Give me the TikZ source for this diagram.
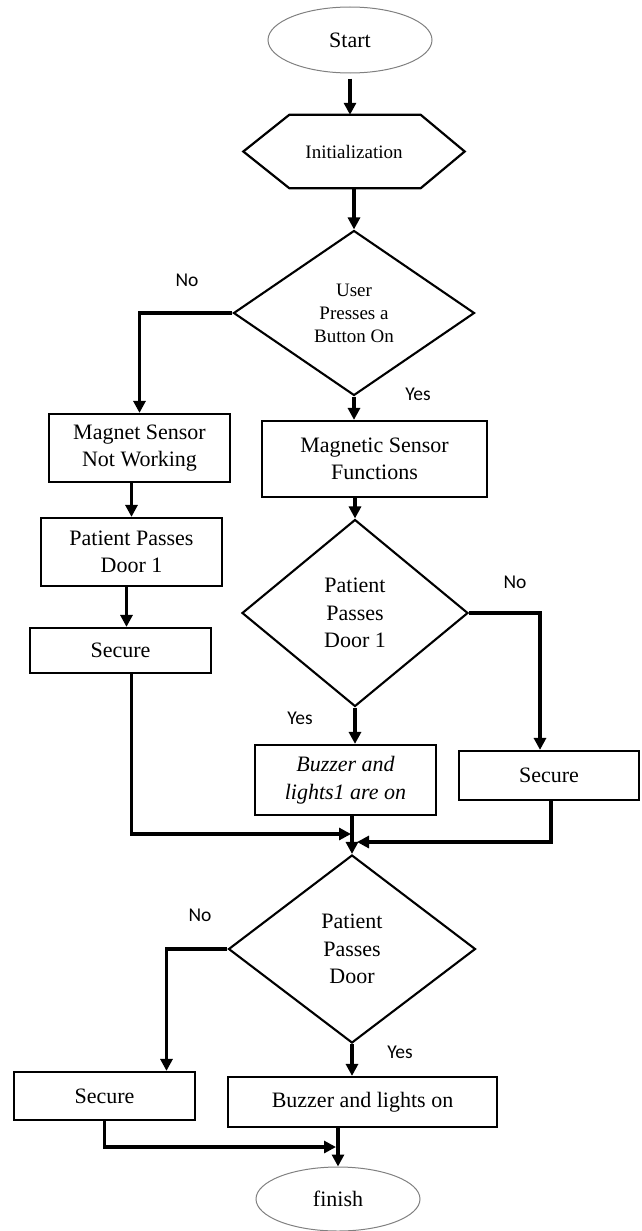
\documentclass[tikz,border=0pt]{standalone}
\usepackage{fontspec}
\setmainfont{Liberation Serif}
\newfontfamily\labfont{Carlito}
\usetikzlibrary{shapes.geometric,arrows.meta,calc}
\begin{document}
\begin{tikzpicture}[x=1pt,y=-1pt,
  box/.style={draw, line width=2.2pt, rectangle, inner sep=0pt, align=center, font=\fontsize{22}{27.5}\selectfont},
  dec/.style={draw, diamond, line width=2.1pt, inner sep=0pt, align=center},
  oval/.style={draw=gray, ellipse, line width=1pt, inner sep=0pt, font=\fontsize{22}{27}\selectfont},
  arr/.style={line width=3.6pt, -{Triangle[length=12pt,width=12pt]}},
  lbl/.style={font=\labfont\fontsize{19.5}{22}\selectfont}]
\useasboundingbox (0,0) rectangle (642,1231);
% nodes
\node[oval, minimum width=164pt, minimum height=66pt] (start) at (350,40) {Start};
\node[minimum width=221pt, minimum height=73pt, inner sep=0pt, font=\fontsize{19}{23}\selectfont] (init) at (354,151.5) {Initialization};
\draw[line width=2.2pt] (init.west) -- ([xshift=46pt]init.north west) -- ([xshift=-44pt]init.north east) -- (init.east) -- ([xshift=-44pt]init.south east) -- ([xshift=46pt]init.south west) -- cycle;
\node[dec, minimum width=241pt, minimum height=165pt, font=\fontsize{19}{23}\selectfont] (d1) at (354,313) {User\\Presses a\\Button On};
\node[box, minimum width=181pt, minimum height=68pt] (m1) at (139.5,448) {Magnet Sensor\\Not Working};
\node[box, minimum width=225pt, minimum height=76pt] (mf) at (374.5,459) {Magnetic Sensor\\Functions};
\node[box, minimum width=181pt, minimum height=68pt] (p1) at (131.5,552) {Patient Passes\\Door 1};
\node[box, minimum width=181pt, minimum height=45pt] (s1) at (120.5,650.5) {Secure};
\node[dec, minimum width=226pt, minimum height=187pt, font=\fontsize{22}{27.5}\selectfont] (d2) at (355,613) {Patient\\Passes\\Door 1};
\node[box, minimum width=181pt, minimum height=70pt] (b1) at (345.5,780) {\itshape Buzzer and\\\itshape lights1 are on};
\node[box, minimum width=180pt, minimum height=49pt] (s2) at (549,775.5) {Secure};
\node[dec, minimum width=247pt, minimum height=188pt, font=\fontsize{22}{27.5}\selectfont] (d3) at (352,949) {Patient\\Passes\\Door};
\node[box, minimum width=181pt, minimum height=48pt] (s3) at (104.5,1096) {Secure};
\node[box, minimum width=269pt, minimum height=50pt] (b3) at (362.5,1102) {Buzzer and lights on};
\node[oval, minimum width=164pt, minimum height=64pt] (fin) at (338,1199) {finish};
% labels
\node[lbl] (no1) at (187,280) {No};
\node[lbl] (yes1) at (418,394) {Yes};
\node[lbl] (no2) at (515,582) {No};
\node[lbl] (yes2) at (300,718) {Yes};
\node[lbl] (no3) at (200,915) {No};
\node[lbl] (yes3) at (400,1052) {Yes};
% merge coordinates
\coordinate (mL) at (351,834);
\coordinate (mR) at (357,842);
\coordinate (mF) at (336,1147);
% connectors
\draw[arr] ([shift={(0pt,-5pt)}]start.south) -- (start.south |- init.north);
\draw[arr] (init.south) -- (d1.north);
\draw[arr] (d1.west) -| (m1.north);
\draw[arr] (d1.south) -- (d1.south |- mf.north);
\draw[arr] (p1.north |- m1.south) -- (p1.north);
\draw[arr] ([xshift=6pt]s1.north |- p1.south) -- ([xshift=6pt]s1.north);
\draw[arr] (d2.north |- mf.south) -- (d2.north);
\draw[arr] (d2.south) -- (d2.south |- b1.north);
\draw[arr] (d2.east) -| ([xshift=-9pt]s2.north);
\draw[arr] ([xshift=11pt]s1.south) |- (mL);
\draw[arr] ([xshift=2pt]s2.south) |- (mR);
\draw[arr] (d3.north |- b1.south) -- (d3.north);
\draw[arr] (d3.west) -| ([xshift=62pt]s3.north);
\draw[arr] (d3.south) -- (d3.south |- b3.north);
\draw[arr] (s3.south) |- (mF);
\draw[arr] (fin.north |- b3.south) -- (fin.north);
\end{tikzpicture}
\end{document}
